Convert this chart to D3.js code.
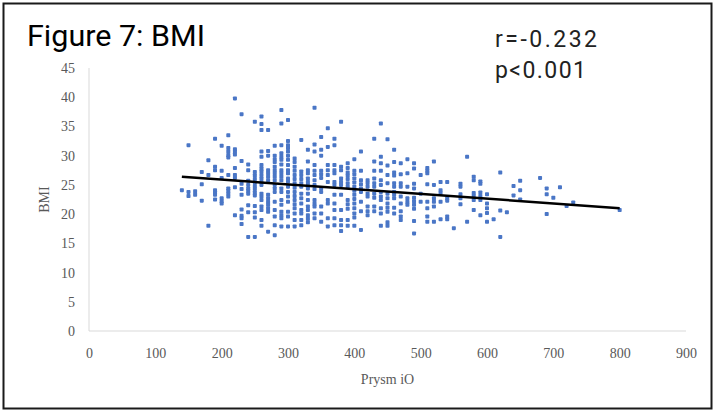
<!DOCTYPE html>
<html>
<head>
<meta charset="utf-8">
<script src="https://cdn.jsdelivr.net/npm/d3@7"></script>
<style>
  html, body { margin: 0; padding: 0; background: #fff; }
</style>
</head>
<body>
<div id="chart"></div>
<script>
// Prysm iO values come in steps of 10, so the points sit in columns
var prysmCols = [140,150,160,170,180,190,200,210,220,230,240,250,260,270,280,290,300,310,320,330,340,350,360,370,380,390,400,410,420,430,440,450,460,470,480,490,500,510,520,530,540,550,560,570,580,590,600,610,620,630,640,650,680,690,700,710,720,730,800];

var bmiByCol = [
[24.1],
[31.8,23.8,23.1],
[23.9,23.3],
[27.2,25.1,22.3],
[29.2,26.7,18.0],
[32.9,28.1,27.5,24.1,23.7,23.3,22.5],
[31.7,27.4,26.2,22.7,22.2,21.8],
[33.5,31.3,30.7,30.1,29.7,26.7,24.4,24.0,23.5,23.0],
[39.8,31.1,30.7,30.2,27.9,26.7,26.2,24.6,19.8],
[37.1,29.1,25.2,24.3,23.3,20.8,19.7,19.3,18.3],
[28.5,27.5,25.7,25.0,24.4,24.0,23.5,21.5,20.3,16.1],
[35.8,27.2,26.6,26.0,25.4,24.8,24.3,23.7,23.2,21.4,20.3,19.4,16.1],
[36.7,35.4,34.4,30.7,29.8,28.4,27.8,27.3,26.7,26.1,25.5,25.0,23.5,23.0,22.4,21.3,20.7,19.0,18.0],
[34.4,30.8,30.0,27.5,27.0,26.4,25.8,23.3,22.7,22.1,21.6,21.0,20.4,17.0],
[31.7,30.0,29.4,28.9,28.1,27.5,27.0,26.4,25.8,25.0,24.4,23.8,22.1,20.7,19.6,18.1,16.4],
[37.8,35.5,31.8,30.4,29.8,29.3,28.5,27.5,27.0,26.4,25.8,24.4,23.8,22.4,21.6,20.4,19.8,19.3,17.9],
[36.1,32.5,31.8,31.3,30.7,30.0,29.3,28.4,27.5,27.0,26.1,25.6,24.7,23.8,23.0,22.1,20.4,19.6,17.9],
[29.5,28.9,28.1,27.4,26.7,26.0,25.3,24.5,23.8,23.1,22.4,21.7,21.0,20.1,19.0,17.9],
[32.7,27.3,26.7,26.0,25.3,24.7,23.5,22.7,21.8,20.7,20.1,19.0,18.1],
[31.0,29.0,27.5,27.0,26.1,25.5,25.0,24.4,23.5,22.4,21.3,20.7,19.8,19.2,18.6],
[38.2,31.9,30.7,28.4,27.4,26.7,25.8,25.0,24.3,22.4,21.8,21.3,20.1,19.3],
[33.2,31.0,30.0,27.4,26.8,26.2,24.4,23.8,21.3,20.1,18.7],
[34.7,31.5,28.4,27.5,26.7,25.5,22.4,21.8,19.3,17.9],
[32.9,31.8,28.4,27.5,27.0,25.5,25.0,23.3,21.8,20.7,19.3,18.1],
[35.8,28.1,27.5,26.1,25.5,25.0,23.3,20.7,19.0,18.1,17.1],
[28.7,27.9,27.1,26.6,26.0,25.3,24.7,22.4,21.7,20.9,19.0,18.0],
[29.4,27.4,26.8,26.1,25.4,24.7,24.0,23.3,22.6,21.8,21.0,20.1,19.4,18.0],
[30.7,27.4,25.8,25.1,24.4,23.8,22.1,20.5,17.3],
[25.8,25.3,24.7,23.5,23.0,21.3,20.5,19.8],
[32.9,29.0,27.4,26.1,25.3,24.7,23.5,22.8,21.3,20.5],
[35.5,29.8,28.7,27.4,25.8,25.0,23.8,23.0,22.4,21.0,20.1,18.0],
[32.8,28.3,26.7,25.3,23.5,22.7,21.8,21.1,20.4,18.6,18.0],
[31.0,28.9,27.1,26.6,25.3,24.7,23.8,23.3,22.7,21.1,20.1],
[28.7,26.8,25.3,24.7,23.0,21.8,20.5,19.6,19.0],
[29.4,27.0,24.7,22.7,22.1,21.6],
[28.7,27.8,25.2,24.4,22.8,22.2,21.6,20.9,18.8,16.7],
[26.7,23.5,22.1],
[27.9,27.4,27.0,25.1,22.1,21.0,19.6,18.7],
[29.0,25.0,22.7,22.1,21.3,18.7],
[25.5,24.1,23.6,22.1,19.1],
[25.5,22.7,22.3,19.6,19.1],
[17.6],
[25.2,24.7,23.4,22.7,21.7],
[29.8,18.7],
[26.4,25.8,23.6,23.1,22.4,20.7],
[25.6,25.2,23.7,23.1,22.4,19.8],
[23.4,21.8,21.0,20.2,18.7],
[19.1],
[27.1,20.6,16.1],
[20.3],
[24.8,23.2],
[25.7,24.1,22.5],
[26.2],
[24.4,23.4,20.0],
[22.8],
[24.6],
[21.4],
[22.0],
[20.7]
];

// linear trendline end points
var trendX = [140, 800];
var trendY = [26.4, 21.0];

var xTicks = [0,100,200,300,400,500,600,700,800,900];
var yTicks = [0,5,10,15,20,25,30,35,40,45];

var width = 715, height = 413;

var svg = d3.select("#chart")
	.append("svg")
		.attr("width", width)
		.attr("height", height)
		.style("display", "block");

// outer frame
svg.append("rect")
	.attr("x", 3.5).attr("y", 3.5)
	.attr("width", 708).attr("height", 405)
	.attr("fill", "#fff")
	.attr("stroke", "#1a1a1a")
	.attr("stroke-width", 2);

var x = d3.scaleLinear().domain([0, 900]).range([89, 686]);
var y = d3.scaleLinear().domain([0, 45]).range([331, 68]);

var serif = "'Liberation Serif', 'Times New Roman', serif";

// axes lines (Excel style, light gray, no tick marks)
svg.append("line")
	.attr("x1", x(0)).attr("x2", x(0))
	.attr("y1", y(45)).attr("y2", y(0))
	.attr("stroke", "#d9d9d9").attr("stroke-width", 1);
svg.append("line")
	.attr("x1", x(0)).attr("x2", x(900))
	.attr("y1", y(0)).attr("y2", y(0))
	.attr("stroke", "#d9d9d9").attr("stroke-width", 1);

var xAxis = svg.append("g")
	.attr("transform", `translate(0, ${y(0)})`)
	.call(d3.axisBottom(x).tickValues(xTicks).tickSize(0).tickPadding(17));
xAxis.select(".domain").remove();
xAxis.selectAll("text")
	.style("font-family", serif)
	.style("font-size", "14px")
	.attr("fill", "#595959");

var yAxis = svg.append("g")
	.attr("transform", `translate(${x(0)}, 0)`)
	.call(d3.axisLeft(y).tickValues(yTicks).tickSize(0).tickPadding(14));
yAxis.select(".domain").remove();
yAxis.selectAll("text")
	.style("font-family", serif)
	.style("font-size", "14px")
	.attr("fill", "#595959");

// points
var points = [];
prysmCols.forEach((px, i) => {
	bmiByCol[i].forEach(b => points.push({prysm: px, bmi: b}));
});

svg.append("g")
	.selectAll("rect")
	.data(points)
	.join("rect")
		.attr("x", d => x(d.prysm) - 2)
		.attr("y", d => y(d.bmi) - 2)
		.attr("width", 4)
		.attr("height", 4)
		.attr("rx", 0.8)
		.attr("fill", "#4a76c6");

// trendline
svg.append("path")
	.datum(trendX.map((v, i) => [v, trendY[i]]))
	.attr("fill", "none")
	.attr("stroke", "#000")
	.attr("stroke-width", 2.5)
	.attr("d", d3.line()
		.x(d => x(d[0]))
		.y(d => y(d[1]))
	);

// axis titles
svg.append("text")
	.attr("transform", `translate(49, ${y(22.5)}) rotate(-90)`)
	.attr("text-anchor", "middle")
	.style("font-family", serif)
	.style("font-size", "14px")
	.attr("fill", "#595959")
	.text("BMI");

svg.append("text")
	.attr("x", x(450))
	.attr("y", 384)
	.attr("text-anchor", "middle")
	.style("font-family", serif)
	.style("font-size", "14px")
	.attr("fill", "#595959")
	.text("Prysm iO");

// title and stats
svg.append("text")
	.attr("x", 27)
	.attr("y", 46)
	.style("font-family", "Roboto, 'Noto Sans', sans-serif")
	.style("font-size", "29px")
	.attr("fill", "#000")
	.attr("textLength", 178)
	.attr("lengthAdjust", "spacingAndGlyphs")
	.text("Figure 7: BMI");

svg.append("text")
	.attr("x", 495)
	.attr("y", 47)
	.style("font-family", "Roboto, 'Noto Sans', sans-serif")
	.style("font-size", "23px")
	.attr("fill", "#222")
	.attr("textLength", 102)
	.attr("lengthAdjust", "spacing")
	.text("r=-0.232");

svg.append("text")
	.attr("x", 495)
	.attr("y", 78)
	.style("font-family", "Roboto, 'Noto Sans', sans-serif")
	.style("font-size", "23px")
	.attr("fill", "#222")
	.attr("textLength", 91)
	.attr("lengthAdjust", "spacing")
	.text("p<0.001");
</script>
</body>
</html>
